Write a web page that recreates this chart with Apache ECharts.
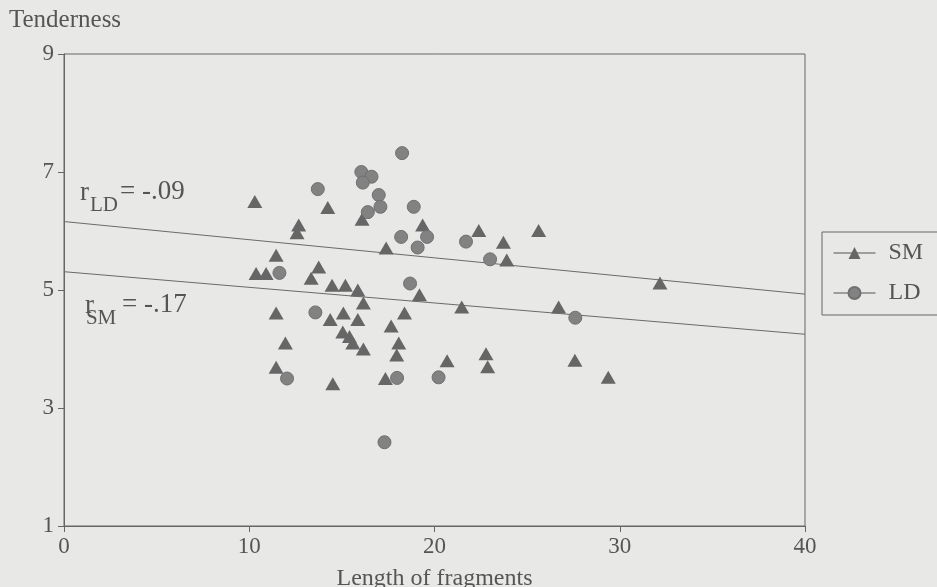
<!DOCTYPE html>
<html>
<head>
<meta charset="utf-8">
<script src="https://cdn.jsdelivr.net/npm/echarts@6/dist/echarts.min.js"></script>
<style>
  html, body { margin: 0; padding: 0; background: #e8e8e6; }
  #graph { width: 937px; height: 587px; }
</style>
</head>
<body>
<div id="graph"></div>
<script>
"use strict"

// Length of fragments vs tenderness
const smPoints = [
    [10.3, 6.5], [12.67, 6.1], [12.58, 5.97], [11.45, 5.59], [10.37, 5.28], [10.91, 5.28],
    [13.75, 5.39], [13.34, 5.2], [14.24, 6.4], [16.09, 6.2], [19.36, 6.1], [17.39, 5.71],
    [14.47, 5.08], [15.19, 5.08], [15.86, 5.0], [16.16, 4.78], [19.19, 4.92], [11.45, 4.61],
    [14.37, 4.5], [15.08, 4.61], [15.86, 4.5], [18.38, 4.61], [17.66, 4.39], [15.05, 4.29],
    [15.41, 4.21], [15.59, 4.1], [16.16, 4.0], [11.95, 4.1], [18.07, 4.1], [17.96, 3.9],
    [11.45, 3.69], [14.51, 3.41], [17.35, 3.5], [22.39, 6.01], [23.72, 5.81], [25.62, 6.01],
    [23.9, 5.51], [32.17, 5.12], [21.47, 4.71], [26.7, 4.71], [20.68, 3.8], [22.78, 3.92],
    [22.87, 3.7], [27.58, 3.81], [29.38, 3.52]
];
const ldPoints = [
    [13.7, 6.71], [16.05, 7.0], [16.6, 6.92], [16.13, 6.82], [18.25, 7.32], [16.99, 6.61],
    [17.08, 6.41], [16.4, 6.32], [18.88, 6.41], [18.2, 5.9], [19.6, 5.9], [19.09, 5.72],
    [18.68, 5.11], [11.63, 5.29], [13.57, 4.62], [12.04, 3.5], [17.98, 3.51], [20.22, 3.52],
    [17.3, 2.42], [21.7, 5.82], [23.0, 5.52], [27.6, 4.53]
];
// fitted lines, ends at x = 0 and x = 40
const ldFit = [[0, 6.16], [40, 4.93]];
const smFit = [[0, 5.31], [40, 4.25]];

const xTicks = { min: 0, max: 40, interval: 10 };
const yTicks = { min: 1, max: 9, interval: 2 };

const ink = "#555";
const serif = "'Liberation Serif', 'DejaVu Serif', serif";

const myChart = echarts.init(document.getElementById("graph"), null, { renderer: "canvas" });

const axisCommon = {
    type: "value",
    axisLine: { show: true, lineStyle: { color: "#666", width: 1 } },
    axisTick: { show: true, inside: false, length: 6, lineStyle: { color: "#666" } },
    splitLine: { show: false },
    axisLabel: { color: ink, fontFamily: serif, fontSize: 23 }
};

const option = {
    animation: false,
    backgroundColor: "#e8e8e6",
    title: {
        text: "Tenderness", left: 4, top: 3,
        textStyle: { color: ink, fontFamily: serif, fontSize: 25, fontWeight: "normal" }
    },
    grid: {
        left: 64, right: 132, top: 54, bottom: 61,
        containLabel: false, outerBoundsMode: "none",
        show: true, borderColor: "#666", borderWidth: 1, backgroundColor: "transparent"
    },
    xAxis: Object.assign({}, axisCommon, {
        min: xTicks.min, max: xTicks.max, interval: xTicks.interval,
        name: "Length of fragments", nameLocation: "middle", nameGap: 41,
        nameTextStyle: { color: ink, fontFamily: serif, fontSize: 24 },
        axisLabel: Object.assign({}, axisCommon.axisLabel, { margin: 9 })
    }),
    yAxis: Object.assign({}, axisCommon, {
        min: yTicks.min, max: yTicks.max, interval: yTicks.interval,
        axisLabel: Object.assign({}, axisCommon.axisLabel, { margin: 10 })
    }),
    legend: {
        data: ["SM", "LD"],
        orient: "vertical", left: 822, top: 232,
        padding: [9, 70, 10, 11],
        itemWidth: 42, itemHeight: 15, itemGap: 16,
        borderColor: "#666", borderWidth: 1, borderRadius: 0,
        lineStyle: { color: "#555", width: 1, opacity: 1 },
        textStyle: { color: ink, fontFamily: serif, fontSize: 24, padding: [0, 0, 0, 8] }
    },
    series: [
        {
            name: "SM", type: "line", data: smPoints,
            symbol: "triangle", symbolSize: [15, 13], showAllSymbol: true,
            itemStyle: { color: "#666" },
            lineStyle: { width: 0, opacity: 0 },
            z: 3
        },
        {
            name: "LD", type: "line", data: ldPoints,
            symbol: "circle", symbolSize: 13, showAllSymbol: true,
            itemStyle: { color: "#828282", borderColor: "#707070", borderWidth: 1 },
            lineStyle: { width: 0, opacity: 0 },
            z: 3
        },
        {
            name: "ldFit", type: "line", data: ldFit, showSymbol: false, silent: true,
            lineStyle: { color: "#6a6a6a", width: 1 }, z: 2
        },
        {
            name: "smFit", type: "line", data: smFit, showSymbol: false, silent: true,
            lineStyle: { color: "#6a6a6a", width: 1 }, z: 2
        }
    ]
};
myChart.setOption(option);

// correlation labels, anchored in data space
function rLabel(anchor, sub, value, subDx, subDy, valDx)
{
    const p = myChart.convertToPixel({ gridIndex: 0 }, anchor);
    const font = { fill: ink, fontFamily: serif, verticalAlign: "middle" };
    return {
        type: "group", x: p[0], y: p[1], children: [
            { type: "text", style: Object.assign({ text: "r", fontSize: 27, x: 0, y: 0 }, font) },
            { type: "text", style: Object.assign({ text: sub, fontSize: 21, x: subDx, y: subDy }, font) },
            { type: "text", style: Object.assign({ text: value, fontSize: 27, x: valDx, y: -1 }, font) }
        ]
    };
}

myChart.setOption({
    graphic: [
        rLabel([0.86, 6.64], "LD", "= -.09", 10, 12, 40),
        rLabel([1.13, 4.73], "SM", "= -.17", 1, 13, 37)
    ]
});
</script>
</body>
</html>
